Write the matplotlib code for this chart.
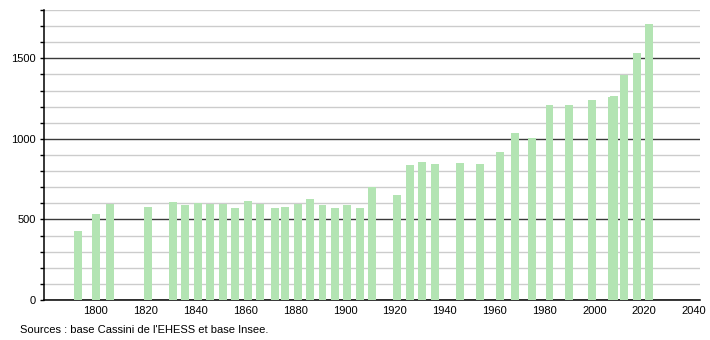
import matplotlib.pyplot as plt
from matplotlib.ticker import MultipleLocator

# census years and population
years = [1793, 1800, 1806, 1821, 1831, 1836, 1841, 1846, 1851, 1856,
         1861, 1866, 1872, 1876, 1881, 1886, 1891, 1896, 1901, 1906,
         1911, 1921, 1926, 1931, 1936, 1946, 1954, 1962, 1968, 1975,
         1982, 1990, 1999, 2007, 2008, 2012, 2017, 2022]
population = [431, 531, 599, 576, 610, 589, 605, 597, 595, 568,
              614, 599, 568, 576, 599, 630, 588, 568, 587, 568,
              703, 651, 838, 854, 844, 852, 844, 917, 1035, 1004,
              1209, 1209, 1240, 1258, 1266, 1398, 1535, 1713]

plt.rcParams['font.family'] = ['Liberation Sans', 'DejaVu Sans']

fig = plt.figure(figsize=(7.1, 3.4), dpi=100)
ax = fig.add_axes([0.0625, 0.1176, 0.924, 0.853])

ax.bar(years, population, width=3.2, color='#b3e4b3', zorder=3)

ax.set_xlim(1779.5, 2042.5)
ax.set_ylim(0, 1800)

ax.yaxis.set_major_locator(MultipleLocator(500))
ax.yaxis.set_minor_locator(MultipleLocator(100))
ax.set_xticks(range(1800, 2041, 20))

ax.grid(axis='y', which='minor', color='#cccccc', linewidth=1, zorder=1)
ax.grid(axis='y', which='major', color='#3a3a3a', linewidth=1, zorder=2)

for side in ['top', 'right']:
    ax.spines[side].set_visible(False)
ax.spines['left'].set_linewidth(1.1)
ax.spines['bottom'].set_linewidth(1.1)

ax.tick_params(axis='y', which='both', length=3, width=1, labelsize=8, pad=3)
ax.tick_params(axis='x', length=0, labelsize=8, pad=4)

fig.text(0.028, 0.022, "Sources : base Cassini de l'EHESS et base Insee.", fontsize=8)

fig.savefig('out.png', dpi=100)
